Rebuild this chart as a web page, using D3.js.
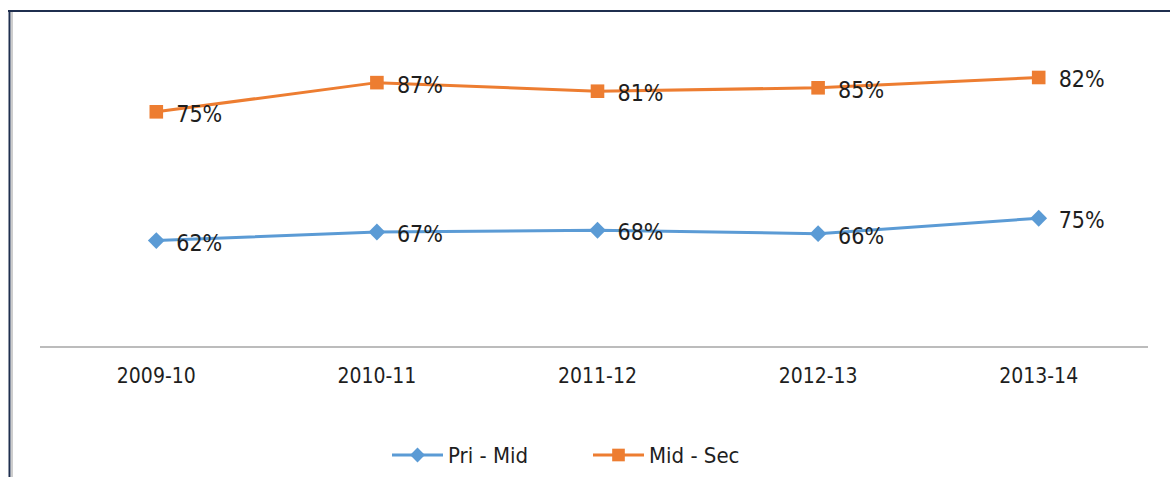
<!DOCTYPE html>
<html>
<head>
<meta charset="utf-8">
<script src="https://cdn.jsdelivr.net/npm/d3@7"></script>
<style>
  body { margin: 0; background: #fff; }
  svg text { font-family: "Liberation Sans Narrow", "DejaVu Sans Condensed", "Open Sans", sans-serif; fill: #1e1e1e; }
</style>
</head>
<body>
<svg id="chart"></svg>
<script>
var width = 1170; // size of the picture
var height = 477;

// chart data
var years = ["2009-10", "2010-11", "2011-12", "2012-13", "2013-14"];
var seriesNames = ["Pri - Mid", "Mid - Sec"];
var priMid = [62, 67, 68, 66, 75];
var midSec = [75, 87, 81, 85, 82];
var colors = ["#5b9bd5", "#ed7d31"];

var svg = d3.select("#chart")
    .attr("width", width)
    .attr("height", height);

// frame lines (top and left)
svg.append("line").attr("x1", 8).attr("x2", width).attr("y1", 11).attr("y2", 11)
    .style("stroke", "#1f2f4f").style("stroke-width", 2);
svg.append("line").attr("x1", 12).attr("x2", 12).attr("y1", 12).attr("y2", height)
    .style("stroke", "#bdbdbd").style("stroke-width", 1.5);
svg.append("line").attr("x1", 9.5).attr("x2", 9.5).attr("y1", 10).attr("y2", height)
    .style("stroke", "#1f2f4f").style("stroke-width", 2);

// scales
var x = d3.scaleBand().domain(years).range([46, 1149]);
var y = d3.scaleLinear().domain([0, 180]).range([347, 38]);

// stacked lines, like the original spreadsheet chart
var table = years.map(function (d, i) {
    return { year: d, "Pri - Mid": priMid[i], "Mid - Sec": midSec[i] };
});
var stacked = d3.stack().keys(seriesNames)(table);

// category axis
var xAxis = svg.append("g")
    .attr("transform", "translate(0," + y(0) + ")")
    .call(d3.axisBottom(x).tickSize(0).tickPadding(21));
xAxis.select(".domain").attr("d", "M40,0H1148").style("stroke", "#a6a6a6").style("stroke-width", 1.3);
xAxis.selectAll("text").style("font-size", "21px").style("fill", "#1e1e1e");

var line = d3.line()
    .x(function (d) { return x(d.data.year) + x.bandwidth() / 2; })
    .y(function (d) { return y(d[1]); });

var diamond = d3.symbol().type(d3.symbolDiamond2).size(180);
var square = d3.symbol().type(d3.symbolSquare).size(185);
var values = [priMid, midSec];

stacked.forEach(function (s, k) {
    svg.append("path")
        .datum(s)
        .attr("d", line)
        .style("fill", "none")
        .style("stroke", colors[k])
        .style("stroke-width", 3);

    svg.selectAll(".mark" + k)
        .data(s)
        .enter().append("path")
        .attr("class", "mark" + k)
        .attr("transform", function (d) {
            return "translate(" + (x(d.data.year) + x.bandwidth() / 2) + "," + y(d[1]) + ")";
        })
        .attr("d", k == 0 ? diamond : square)
        .style("fill", colors[k]);

    // value labels to the right of each point
    svg.selectAll(".label" + k)
        .data(s)
        .enter().append("text")
        .attr("class", "label" + k)
        .attr("x", function (d) { return x(d.data.year) + x.bandwidth() / 2 + 20; })
        .attr("y", function (d) { return y(d[1]) + 10; })
        .style("font-size", "23px")
        .text(function (d, i) { return values[k][i] + "%"; });
});

// legend
var legend = svg.append("g").attr("transform", "translate(392,455)");
seriesNames.forEach(function (name, k) {
    var g = legend.append("g").attr("transform", "translate(" + (k * 201) + ",0)");
    g.append("line").attr("x1", 0).attr("x2", 51).attr("y1", 0).attr("y2", 0)
        .style("stroke", colors[k]).style("stroke-width", 3);
    g.append("path").attr("transform", "translate(25.5,0)")
        .attr("d", k == 0 ? d3.symbol().type(d3.symbolDiamond2).size(140) : d3.symbol().type(d3.symbolSquare).size(160))
        .style("fill", colors[k]);
    g.append("text").attr("x", 56).attr("y", 8)
        .style("font-size", "22px")
        .text(name);
});
</script>
</body>
</html>
